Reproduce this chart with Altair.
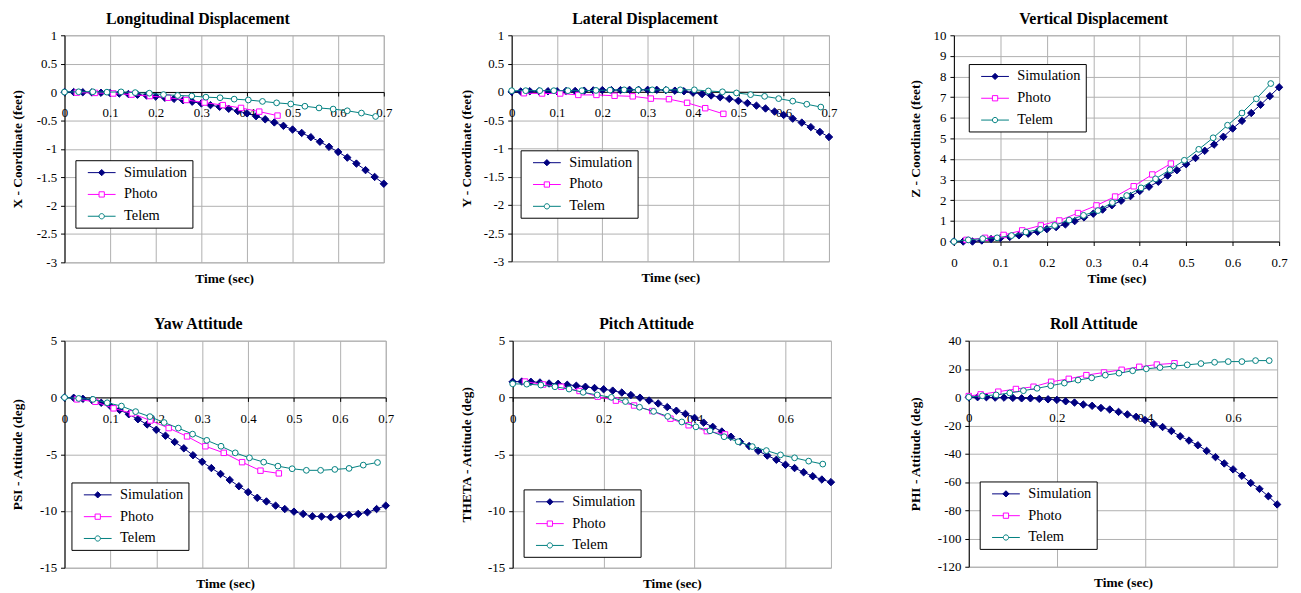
import altair as alt
import pandas as pd

FONT = "Liberation Serif"
SERIES = ["Simulation", "Photo", "Telem"]
COLORS = ["#000080", "#FF00FF", "#008080"]
FILLS = ["#000080", "#FFFFFF", "#FFFFFF"]
GRID = "#b0b0b0"

T_SIM = [0.0, 0.02, 0.04, 0.06, 0.08, 0.1, 0.12, 0.14, 0.16, 0.18, 0.2, 0.22,
         0.24, 0.26, 0.28, 0.3, 0.32, 0.34, 0.36, 0.38, 0.4, 0.42, 0.44, 0.46,
         0.48, 0.5, 0.52, 0.54, 0.56, 0.58, 0.6, 0.62, 0.64, 0.66, 0.68, 0.7]
T_PHOTO = [0.027, 0.067, 0.107, 0.147, 0.187, 0.227, 0.267, 0.307, 0.347, 0.387, 0.427, 0.467]
T_PHOTO_ROLL = [0.0, 0.027, 0.067, 0.107, 0.147, 0.187, 0.227, 0.267, 0.307, 0.347, 0.387, 0.427, 0.467]
T_TELEM = [0.0, 0.031, 0.062, 0.093, 0.124, 0.155, 0.186, 0.217, 0.248, 0.279, 0.31, 0.341,
           0.372, 0.403, 0.434, 0.465, 0.496, 0.527, 0.558, 0.589, 0.62, 0.651, 0.682]

X_SIM = [0, 0, -0.003, -0.007, -0.012, -0.018, -0.026, -0.035, -0.047, -0.062, -0.08, -0.1,
         -0.12, -0.145, -0.17, -0.2, -0.23, -0.26, -0.295, -0.335, -0.375, -0.425, -0.48, -0.535,
         -0.595, -0.66, -0.72, -0.795, -0.875, -0.965, -1.055, -1.155, -1.26, -1.375, -1.495, -1.615]
X_PHOTO = [-0.01, -0.015, -0.025, -0.045, -0.07, -0.1, -0.14, -0.185, -0.23, -0.28, -0.345, -0.415]
X_TELEM = [0, 0.005, 0.005, -0.002, 0.003, -0.01, -0.02, -0.045, -0.06, -0.07, -0.09, -0.1,
           -0.125, -0.14, -0.165, -0.19, -0.21, -0.25, -0.28, -0.3, -0.33, -0.37, -0.43]

Y_SIM = [0, 0.005, 0.01, 0.01, 0.01, 0.01, 0.015, 0.015, 0.02, 0.025, 0.03, 0.03,
         0.03, 0.035, 0.035, 0.035, 0.035, 0.03, 0.02, 0.01, -0.015, -0.04, -0.065, -0.095,
         -0.125, -0.16, -0.2, -0.245, -0.295, -0.35, -0.41, -0.475, -0.545, -0.625, -0.71, -0.8]
Y_PHOTO = [-0.025, -0.03, -0.03, -0.055, -0.055, -0.07, -0.08, -0.12, -0.13, -0.195, -0.29, -0.39]
Y_TELEM = [0.02, 0.02, 0.02, 0.02, 0.02, 0.02, 0.025, 0.03, 0.035, 0.035, 0.035, 0.035,
           0.035, 0.035, 0.015, 0.0, -0.02, -0.05, -0.08, -0.12, -0.165, -0.22, -0.27]

Z_SIM = [0, 0, 0, 0.05, 0.12, 0.17, 0.22, 0.3, 0.38, 0.48, 0.6, 0.7,
         0.83, 0.99, 1.17, 1.35, 1.55, 1.76, 1.98, 2.2, 2.45, 2.66, 2.9, 3.2,
         3.46, 3.75, 4.05, 4.4, 4.7, 5.08, 5.48, 5.85, 6.23, 6.63, 7.05, 7.48]
Z_PHOTO = [0.08, 0.18, 0.32, 0.54, 0.78, 1.02, 1.38, 1.75, 2.18, 2.68, 3.25, 3.78]
Z_TELEM = [0, 0.08, 0.14, 0.18, 0.29, 0.46, 0.59, 0.78, 1.04, 1.27, 1.5, 1.89,
           2.23, 2.6, 3.04, 3.48, 3.94, 4.47, 5.03, 5.64, 6.23, 6.92, 7.66]

PSI_SIM = [0, -0.03, -0.12, -0.23, -0.47, -0.76, -1.1, -1.48, -1.92, -2.38, -2.85, -3.37,
           -3.92, -4.48, -5.09, -5.67, -6.22, -6.74, -7.27, -7.82, -8.34, -8.84, -9.16, -9.53,
           -9.83, -10.06, -10.26, -10.47, -10.49, -10.55, -10.47, -10.35, -10.26, -10.12, -9.83, -9.53]
PSI_PHOTO = [-0.17, -0.38, -0.96, -1.4, -2.03, -2.7, -3.43, -4.3, -4.88, -5.7, -6.45, -6.69]
PSI_TELEM = [0, -0.09, -0.17, -0.47, -0.76, -1.25, -1.69, -2.21, -2.7, -3.23, -3.78, -4.3,
             -4.88, -5.32, -5.7, -6.05, -6.28, -6.42, -6.42, -6.34, -6.25, -5.96, -5.73]

THETA_SIM = [1.38, 1.4, 1.38, 1.32, 1.23, 1.2, 1.12, 1.03, 0.94, 0.83, 0.72, 0.6,
             0.43, 0.21, -0.02, -0.27, -0.53, -0.85, -1.17, -1.45, -1.8, -2.22, -2.59, -3.0,
             -3.46, -3.9, -4.28, -4.71, -5.12, -5.49, -5.93, -6.22, -6.59, -6.94, -7.23, -7.46]
THETA_PHOTO = [1.4, 1.14, 0.94, 0.57, 0.07, -0.28, -0.71, -1.2, -1.87, -2.45, -2.97, -3.26]
THETA_TELEM = [1.2, 1.17, 1.09, 0.94, 0.74, 0.45, 0.22, 0.01, -0.36, -0.86, -1.23, -1.67,
               -2.16, -2.59, -2.94, -3.46, -3.9, -4.33, -4.68, -5.06, -5.32, -5.61, -5.87]

PHI_SIM = [0, 0, 0, -0.3, -0.3, -0.5, -0.8, -0.8, -1.2, -1.5, -1.9, -2.9,
           -3.8, -5.2, -6.1, -7.6, -8.7, -10.4, -12.2, -13.9, -16.2, -19.0, -21.1, -23.9,
           -27.7, -30.7, -34.0, -38.0, -42.4, -46.9, -51.1, -55.6, -60.7, -64.9, -70.1, -75.9]
PHI_PHOTO = [0.8, 2, 3.9, 5.8, 7.4, 10.9, 13, 15.6, 17.5, 19.4, 21.5, 23.1, 24]
PHI_TELEM = [0, 1, 1.6, 3, 4.6, 6.3, 8.1, 10, 12.1, 13.7, 15.6, 17, 18.7, 20.1, 21, 22,
             22.9, 23.8, 24.7, 25.2, 25.2, 25.9, 25.9]

XT_01 = [0, 0.1, 0.2, 0.3, 0.4, 0.5, 0.6, 0.7]
XT_02 = [0, 0.2, 0.4, 0.6]
YT_XY = [1, 0.5, 0, -0.5, -1, -1.5, -2, -2.5, -3]
YT_Z = [0, 1, 2, 3, 4, 5, 6, 7, 8, 9, 10]
YT_ANG = [5, 0, -5, -10, -15]
YT_PHI = [40, 20, 0, -20, -40, -60, -80, -100, -120]

# legend symbols: line + marker, drawn as custom paths
LEG_PATHS = [
    "M-2,0H2M0,-0.45L0.45,0L0,0.45L-0.45,0Z",
    "M-2,0H-0.38M0.38,0H2M-0.38,-0.38H0.38V0.38H-0.38Z",
    "M-2,0H-0.38M0.38,0H2M0.38,0A0.38,0.38,0,1,1,-0.38,0A0.38,0.38,0,1,1,0.38,0Z",
]

PANELS = [
    dict(title="Longitudinal Displacement", ytitle="X - Coordinate (feet)",
         sim=X_SIM, photo=X_PHOTO, tphoto=T_PHOTO, telem=X_TELEM,
         ydom=[-3, 1], yt=YT_XY, xt=XT_01, w=322, h=229, zero=True,
         E=29, P=11, leg=(11, 126), toff=-11, dx=-26.5),
    dict(title="Lateral Displacement", ytitle="Y - Coordinate (feet)",
         sim=Y_SIM, photo=Y_PHOTO, tphoto=T_PHOTO, telem=Y_TELEM,
         ydom=[-3, 1], yt=YT_XY, xt=XT_01, w=320, h=228, zero=True,
         E=29, P=10, leg=(9, 116), toff=-11, dx=-25.5),
    dict(title="Vertical Displacement", ytitle="Z - Coordinate (feet)",
         sim=Z_SIM, photo=Z_PHOTO, tphoto=T_PHOTO, telem=Z_TELEM,
         ydom=[0, 10], yt=YT_Z, xt=XT_01, w=328, h=208, zero=False,
         E=21, P=11, leg=(15, 29), toff=-11, dx=-23),
    dict(title="Yaw Attitude", ytitle="PSI - Attitude (deg)",
         sim=PSI_SIM, photo=PSI_PHOTO, tphoto=T_PHOTO, telem=PSI_TELEM,
         ydom=[-15, 5], yt=YT_ANG, xt=XT_01, w=324, h=229, zero=True,
         E=26, P=14, leg=(7, 143), toff=-10, dx=-27),
    dict(title="Pitch Attitude", ytitle="THETA - Attitude (deg)",
         sim=THETA_SIM, photo=THETA_PHOTO, tphoto=T_PHOTO, telem=THETA_TELEM,
         ydom=[-15, 5], yt=YT_ANG, xt=XT_02, w=321, h=229, zero=True,
         E=26, P=14, leg=(11, 150), toff=-10, dx=-25.5),
    dict(title="Roll Attitude", ytitle="PHI - Attitude (deg)",
         sim=PHI_SIM, photo=PHI_PHOTO, tphoto=T_PHOTO_ROLL, telem=PHI_TELEM,
         ydom=[-120, 40], yt=YT_PHI, xt=XT_02, w=311, h=228, zero=True,
         E=32, P=15, leg=(11, 142), toff=-10, dx=-29.5),
]

MARKS = [("diamond", 56), ("square", 30), ("circle", 34)]


def panel(c):
    assert len(c["sim"]) == len(T_SIM)
    assert len(c["photo"]) == len(c["tphoto"])
    assert len(c["telem"]) == len(T_TELEM)
    rows = []
    for tl, vl, nm in [(T_SIM, c["sim"], SERIES[0]), (c["tphoto"], c["photo"], SERIES[1]),
                       (T_TELEM, c["telem"], SERIES[2])]:
        for t, v in zip(tl, vl):
            rows.append({"t": t, "v": v, "series": nm})
    df = pd.DataFrame(rows)

    ymin, ymax = c["ydom"]
    H, W = c["h"], c["w"]
    if c["zero"]:
        zero_top = H * ymax / (ymax - ymin)
        off = -(H - zero_top)
        ty = -off + 9
    else:
        off = 0
        ty = 30.5
    xaxis = alt.Axis(values=c["xt"], labelExpr="'' + datum.value", offset=off,
                     title="Time (sec)", titleY=ty, titleBaseline="top",
                     grid=True, tickSize=4, labelPadding=11, labelFlush=False,
                     labelOverlap=False, domainColor="black", tickColor="black")
    yaxis = alt.Axis(values=c["yt"], labelExpr="'' + datum.value", title=c["ytitle"],
                     titlePadding=c["P"], minExtent=c["E"], maxExtent=c["E"],
                     tickSize=4, labelPadding=4, grid=True, labelOverlap=False,
                     domainColor="black", tickColor="black")
    xenc = alt.X("t:Q", scale=alt.Scale(domain=[0, 0.7], nice=False, zero=False), axis=xaxis)
    yenc = alt.Y("v:Q", scale=alt.Scale(domain=[ymin, ymax], nice=False, zero=False), axis=yaxis)

    base = alt.Chart(df)
    layers = []
    for nm, col, fil, (shp, sz) in zip(SERIES, COLORS, FILLS, MARKS):
        d = base.transform_filter(alt.datum.series == nm)
        layers.append(d.mark_line(color=col, strokeWidth=1).encode(x=xenc, y=yenc, order="t:Q"))
        layers.append(d.mark_point(shape=shp, size=sz, filled=True, fill=fil, stroke=col,
                                   strokeWidth=1, opacity=1).encode(x=xenc, y=yenc))

    leg = alt.Legend(title=None, orient="none", legendX=c["leg"][0], legendY=c["leg"][1],
                     direction="vertical", strokeColor="black", fillColor="white",
                     padding=5, labelFont=FONT, labelFontSize=14.5, labelColor="black",
                     symbolSize=196, symbolStrokeWidth=1, symbolOpacity=1,
                     symbolOffset=14, labelOffset=15, rowPadding=7, labelLimit=0)
    legend_layer = base.transform_filter("false").mark_point(opacity=1, filled=True).encode(
        fill=alt.Fill("series:N", scale=alt.Scale(domain=SERIES, range=FILLS), legend=leg),
        stroke=alt.Stroke("series:N", scale=alt.Scale(domain=SERIES, range=COLORS), legend=leg),
        shape=alt.Shape("series:N", scale=alt.Scale(domain=SERIES, range=LEG_PATHS), legend=leg),
    )
    layers.append(legend_layer)

    return alt.layer(*layers).properties(
        width=W, height=H,
        title=alt.TitleParams(c["title"], font=FONT, fontSize=16, fontWeight="bold",
                              color="black", anchor="middle", baseline="alphabetic",
                              offset=c["toff"], dx=c["dx"]),
    )


IND = dict(fill="independent", stroke="independent", shape="independent")
p = [panel(c) for c in PANELS]

row1 = alt.hconcat(alt.hconcat(p[0], p[1], spacing=66).resolve_scale(**IND), p[2],
                   spacing=70).resolve_scale(**IND)
row2 = alt.hconcat(alt.hconcat(p[3], p[4], spacing=64).resolve_scale(**IND), p[5],
                   spacing=70).resolve_scale(**IND)

chart = alt.concat(row1, row2, columns=1, spacing=29, align="none").resolve_scale(**IND).configure(
    padding={"left": 2, "top": 0, "right": 5, "bottom": 5},
    background="white",
).configure_view(stroke=GRID, strokeWidth=1).configure_axis(
    gridColor=GRID, gridOpacity=1, gridWidth=1,
    labelFont=FONT, labelFontSize=13, labelColor="black",
    titleFont=FONT, titleFontSize=13.5, titleFontWeight="bold", titleColor="black",
)

chart.save("out.html", embed_options={"renderer": "svg", "actions": False})
